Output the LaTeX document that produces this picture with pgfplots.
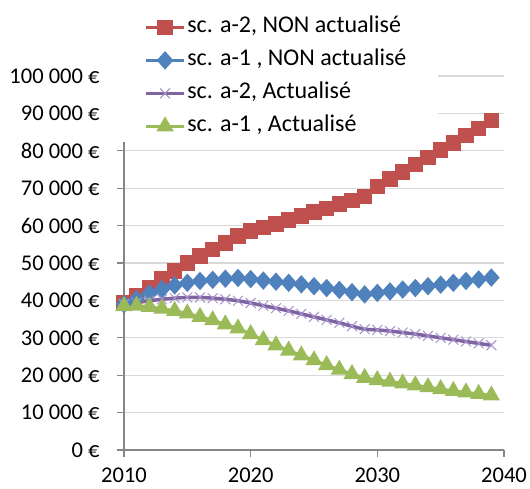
\documentclass[border=0pt]{standalone}
\usepackage{fontspec}
\setmainfont{Carlito}
\usepackage{pgfplots}
\usepackage{pgfplotstable}
\pgfplotsset{compat=1.18}
\definecolor{cred}{HTML}{C0504D}
\definecolor{cblue}{HTML}{4F81BD}
\definecolor{cpurple}{HTML}{8064A2}
\definecolor{cpurplelight}{HTML}{A692CC}
\definecolor{cgreen}{HTML}{9BBB59}
\definecolor{axgray}{HTML}{868686}
\definecolor{grgray}{HTML}{D9D9D9}

\pgfplotstableread{
year val
2010 39300
2011 41300
2012 43500
2013 45700
2014 47900
2015 50000
2016 51900
2017 53600
2018 55400
2019 57200
2020 58600
2021 59500
2022 60500
2023 61500
2024 62600
2025 63600
2026 64600
2027 65700
2028 66700
2029 67800
2030 70500
2031 72400
2032 74300
2033 76300
2034 78200
2035 80200
2036 82100
2037 84100
2038 86000
2039 88100
}\redtab

\pgfplotstableread{
year val
2010 39000
2011 40300
2012 41800
2013 43000
2014 44000
2015 44700
2016 45200
2017 45500
2018 45800
2019 46000
2020 45700
2021 45300
2022 45000
2023 44700
2024 44300
2025 43800
2026 43300
2027 42800
2028 42200
2029 41600
2030 42000
2031 42400
2032 42900
2033 43300
2034 43800
2035 44200
2036 44700
2037 45200
2038 45600
2039 46100
}\bluetab

\pgfplotstableread{
year val
2010 39000
2011 39400
2012 39900
2013 40300
2014 40600
2015 40800
2016 40800
2017 40600
2018 40300
2019 39900
2020 39300
2021 38600
2022 37900
2023 37200
2024 36400
2025 35600
2026 34800
2027 34000
2028 33100
2029 32300
2030 32100
2031 31800
2032 31400
2033 31000
2034 30500
2035 30000
2036 29500
2037 29000
2038 28500
2039 28000
}\purpletab

\pgfplotstableread{
year val
2010 38500
2011 38600
2012 38300
2013 37800
2014 37200
2015 36500
2016 35600
2017 34700
2018 33600
2019 32500
2020 31000
2021 29400
2022 28000
2023 26600
2024 25300
2025 24000
2026 22700
2027 21500
2028 20300
2029 19300
2030 18700
2031 18300
2032 17800
2033 17300
2034 16800
2035 16300
2036 15800
2037 15400
2038 15000
2039 14600
}\greentab

\begin{document}
\begin{tikzpicture}[font=\fontsize{23.5bp}{28bp}\selectfont]
\useasboundingbox (0,0) rectangle (530bp,489bp);
\begin{axis}[
  at={(124bp,39bp)}, anchor=south west,
  scale only axis, width=380bp, height=374bp,
  xmin=2010, xmax=2040, ymin=0, ymax=100000,
  axis x line*=bottom, axis y line*=left,
  axis line style={axgray, line width=1.3bp},
  xtick={2010,2020,2030,2040},
  ytick={0,10000,...,100000},
  yticklabels={0 €,10 000 €,20 000 €,30 000 €,40 000 €,50 000 €,60 000 €,70 000 €,80 000 €,90 000 €,100 000 €},
  xticklabel style={/pgf/number format/1000 sep={}, yshift=-7bp},
  yticklabel style={xshift=-14bp},
  /pgf/number format/assume math mode=true,
  tick align=outside, major tick length=7bp,
  tick style={axgray, line width=1.3bp},
  ymajorgrids, grid style={grgray, line width=1.3bp},
  ticklabel style={font=\fontsize{22.5bp}{27bp}\selectfont},
  legend cell align=left,
  legend style={at={(-0.026,1.172)}, anchor=north west, draw=none, fill=white,
    inner xsep=30bp, inner ysep=5bp, row sep=12bp,
    nodes={inner sep=0pt, inner xsep=1.5bp, text height=16bp, text depth=5bp},
    font=\fontsize{24bp}{28bp}\selectfont},
  legend image code/.code={\draw[mark repeat=2,mark phase=2,#1] plot coordinates {(0bp,0bp) (19bp,0bp) (38bp,0bp)};},
]
\addplot[cred, line width=3bp, mark=square*, mark size=6.3bp, mark options={solid, fill=cred, draw=cred}] table[x=year,y=val] {\redtab};
\addlegendentry{sc. a-2, NON actualisé}
\addplot[cblue, line width=3bp, mark=diamond*, mark size=7bp, mark options={solid, xscale=1.2, fill=cblue, draw=cblue}] table[x=year,y=val] {\bluetab};
\addlegendentry{sc. a-1 , NON actualisé}
\addplot[cpurple, line width=3.5bp, smooth, mark=x, mark size=7bp, mark options={solid, cpurplelight, line width=1bp}] table[x=year,y=val] {\purpletab};
\addlegendentry{sc. a-2, Actualisé}
\addplot[cgreen, line width=3bp, mark=triangle*, mark size=7bp, mark options={solid, fill=cgreen, draw=cgreen}] table[x=year,y=val] {\greentab};
\addlegendentry{sc. a-1 , Actualisé}
\end{axis}
\end{tikzpicture}
\end{document}
